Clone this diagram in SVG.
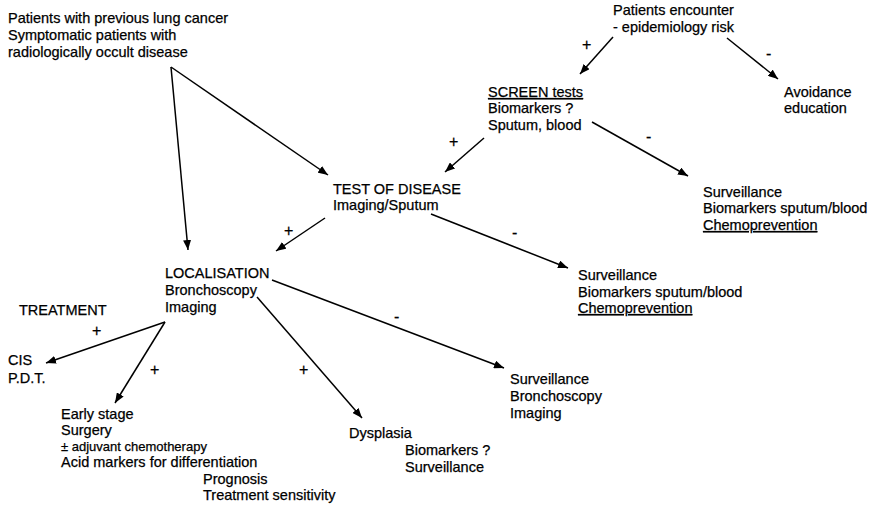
<svg xmlns="http://www.w3.org/2000/svg" width="872" height="506" viewBox="0 0 872 506">
<defs>
<style>
text{font-family:"Liberation Sans",Arial,sans-serif;font-size:14.5px;fill:#000;stroke:#000;stroke-width:0.25}
.s{font-size:13px}
.g{font-size:16px}
.u{text-decoration:underline}
.c line{stroke:#000;stroke-width:1.5;fill:none}
.a{marker-end:url(#ah)}
</style>
<marker id="ah" viewBox="0 0 10 8" refX="10" refY="4" markerWidth="10" markerHeight="8" markerUnits="userSpaceOnUse" orient="auto">
<path d="M0,0 L10,4 L0,8 Z" fill="#000"/>
</marker>
</defs>
<rect width="872" height="506" fill="#fff"/>
<g id="prev">
<text x="8" y="23">Patients with previous lung cancer</text>
<text x="8" y="40">Symptomatic patients with</text>
<text x="8" y="57">radiologically occult disease</text>
</g>
<g id="encounter">
<text x="613" y="15">Patients encounter</text>
<text x="613" y="32">- epidemiology risk</text>
</g>
<g id="screen">
<text x="488" y="97" class="u">SCREEN tests</text>
<text x="488" y="113">Biomarkers ?</text>
<text x="488" y="130">Sputum, blood</text>
</g>
<g id="avoidance">
<text x="784" y="97">Avoidance</text>
<text x="784" y="113">education</text>
</g>
<g id="test">
<text x="333" y="194">TEST OF DISEASE</text>
<text x="333" y="210">Imaging/Sputum</text>
</g>
<g id="surv1">
<text x="703" y="197">Surveillance</text>
<text x="703" y="213">Biomarkers sputum/blood</text>
<text x="703" y="230" class="u">Chemoprevention</text>
</g>
<g id="local">
<text x="165" y="278">LOCALISATION</text>
<text x="165" y="295">Bronchoscopy</text>
<text x="165" y="312">Imaging</text>
</g>
<g id="surv2">
<text x="578" y="280">Surveillance</text>
<text x="578" y="297">Biomarkers sputum/blood</text>
<text x="578" y="313" class="u">Chemoprevention</text>
</g>
<g id="treatment">
<text x="19" y="315">TREATMENT</text>
</g>
<g id="cis">
<text x="8" y="365">CIS</text>
<text x="8" y="383">P.D.T.</text>
</g>
<g id="early">
<text x="61" y="419">Early stage</text>
<text x="61" y="435">Surgery</text>
<text x="61" y="451" class="s">± adjuvant chemotherapy</text>
<text x="61" y="467">Acid markers for differentiation</text>
<text x="203" y="484">Prognosis</text>
<text x="203" y="500">Treatment sensitivity</text>
</g>
<g id="dysplasia">
<text x="349" y="438">Dysplasia</text>
<text x="405" y="455">Biomarkers ?</text>
<text x="405" y="472">Surveillance</text>
</g>
<g id="surv3">
<text x="510" y="384">Surveillance</text>
<text x="510" y="401">Bronchoscopy</text>
<text x="510" y="418">Imaging</text>
</g>
<g id="connectors" class="c">
<line class="a" x1="171" y1="67" x2="188" y2="250"/>
<line class="a" x1="171" y1="67" x2="328" y2="175"/>
<line class="a" x1="613" y1="37" x2="580" y2="74"/>
<line class="a" x1="727" y1="38" x2="778" y2="79"/>
<line class="a" x1="484" y1="138" x2="445" y2="172"/>
<line class="a" x1="592" y1="122" x2="688" y2="176"/>
<line class="a" x1="325" y1="218" x2="276" y2="251"/>
<line class="a" x1="431" y1="214" x2="568" y2="268"/>
<line class="a" x1="272" y1="280" x2="504" y2="368"/>
<line class="a" x1="257" y1="297" x2="362" y2="418"/>
<line class="a" x1="165" y1="322" x2="46" y2="363"/>
<line class="a" x1="165" y1="322" x2="115" y2="403"/>
<text class="g" x="582" y="50">+</text>
<text class="g" x="766" y="59">-</text>
<text class="g" x="449" y="147">+</text>
<text class="g" x="646" y="142">-</text>
<text class="g" x="284" y="236">+</text>
<text class="g" x="512" y="238">-</text>
<text class="g" x="394" y="322">-</text>
<text class="g" x="92" y="336">+</text>
<text class="g" x="150" y="375">+</text>
<text class="g" x="299" y="375">+</text>
</g>
</svg>
